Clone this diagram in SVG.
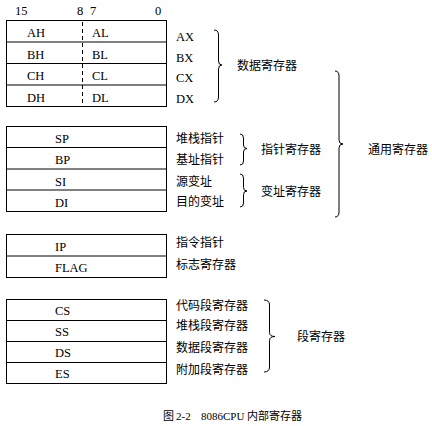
<svg xmlns="http://www.w3.org/2000/svg" width="432" height="426" viewBox="0 0 432 426">
<style>
.box{fill:#fff;stroke:#000;stroke-width:1}
.ln{stroke:#000;stroke-width:1;fill:none}
.dash{stroke:#000;stroke-width:1;stroke-dasharray:4,3}
.br{stroke:#000;stroke-width:1;fill:none}
.lt{font-family:"Liberation Serif","Noto Serif CJK SC",serif;font-size:12.5px;fill:#000}
.cj{font-family:"Noto Sans CJK SC","Noto Sans",sans-serif;font-size:12px;fill:#000}
.cap{font-family:"Liberation Serif","Noto Sans CJK SC",serif;font-size:11px;fill:#000}
.capc{font-family:"Noto Sans CJK SC",sans-serif;font-size:11px;fill:#000}
</style>
<rect width="432" height="426" fill="#fff"/>
<g id="header">
<text class="lt" x="15" y="15">15</text>
<text class="lt" x="77" y="15">8</text>
<text class="lt" x="90" y="15">7</text>
<text class="lt" x="155" y="15">0</text>
</g>
<g id="data-regs">
<rect class="box" x="6.5" y="20.5" width="160" height="86"/>
<line class="ln" x1="6.5" y1="42" x2="166.5" y2="42"/>
<line class="ln" x1="6.5" y1="63.5" x2="166.5" y2="63.5"/>
<line class="ln" x1="6.5" y1="85" x2="166.5" y2="85"/>
<line class="dash" x1="82.5" y1="22" x2="82.5" y2="106"/>
<text class="lt" x="27" y="37">AH</text><text class="lt" x="92" y="37">AL</text>
<text class="lt" x="27" y="58.5">BH</text><text class="lt" x="92" y="58.5">BL</text>
<text class="lt" x="27" y="80">CH</text><text class="lt" x="92" y="80">CL</text>
<text class="lt" x="27" y="101.5">DH</text><text class="lt" x="92" y="101.5">DL</text>
<text class="lt" x="176" y="41">AX</text>
<text class="lt" x="176" y="61.5">BX</text>
<text class="lt" x="176" y="82">CX</text>
<text class="lt" x="176" y="102.5">DX</text>
</g>
<g id="ptr-regs">
<rect class="box" x="6.5" y="126.5" width="160" height="85"/>
<line class="ln" x1="6.5" y1="147.5" x2="166.5" y2="147.5"/>
<line class="ln" x1="6.5" y1="169" x2="166.5" y2="169"/>
<line class="ln" x1="6.5" y1="190" x2="166.5" y2="190"/>
<text class="lt" x="55" y="143">SP</text>
<text class="lt" x="55" y="164">BP</text>
<text class="lt" x="55" y="185.5">SI</text>
<text class="lt" x="55" y="207">DI</text>
<text class="cj" x="176" y="143">堆栈指针</text>
<text class="cj" x="176" y="164">基址指针</text>
<text class="cj" x="176" y="185.5">源变址</text>
<text class="cj" x="176" y="206">目的变址</text>
</g>
<g id="ctrl-regs">
<rect class="box" x="6.5" y="234.5" width="160" height="43"/>
<line class="ln" x1="6.5" y1="256" x2="166.5" y2="256"/>
<text class="lt" x="55" y="250.5">IP</text>
<text class="lt" x="55" y="272">FLAG</text>
<text class="cj" x="176" y="247">指令指针</text>
<text class="cj" x="176" y="268.5">标志寄存器</text>
</g>
<g id="seg-regs">
<rect class="box" x="6.5" y="299.5" width="160" height="84"/>
<line class="ln" x1="6.5" y1="320.5" x2="166.5" y2="320.5"/>
<line class="ln" x1="6.5" y1="341.5" x2="166.5" y2="341.5"/>
<line class="ln" x1="6.5" y1="362.5" x2="166.5" y2="362.5"/>
<text class="lt" x="55" y="315">CS</text>
<text class="lt" x="55" y="335.5">SS</text>
<text class="lt" x="55" y="357">DS</text>
<text class="lt" x="55" y="378">ES</text>
<text class="cj" x="176" y="309.5">代码段寄存器</text>
<text class="cj" x="176" y="330">堆栈段寄存器</text>
<text class="cj" x="176" y="352">数据段寄存器</text>
<text class="cj" x="176" y="373.5">附加段寄存器</text>
</g>
<g id="connectors">
<path class="br" d="M214,30 Q218.5,30 218.5,35 V61 Q218.5,65 222,65 Q218.5,65 218.5,69 V97 Q218.5,102 214,102"/>
<path class="br" d="M240,134 Q243.5,134 243.5,138 V145 Q243.5,148.5 247,148.5 Q243.5,148.5 243.5,152 V161 Q243.5,165 240,165"/>
<path class="br" d="M240,174 Q243.5,174 243.5,178 V187.5 Q243.5,191 247,191 Q243.5,191 243.5,194.5 V203 Q243.5,207 240,207"/>
<path class="br" d="M335,71 Q339,71 339,76 V140 Q339,144 343,144 Q339,144 339,148 V212 Q339,217 335,217"/>
<path class="br" d="M264,300 Q269.5,300 269.5,305 V332.5 Q269.5,336.5 275,336.5 Q269.5,336.5 269.5,340.5 V367 Q269.5,372 264,372"/>
</g>
<g id="group-labels">
<text class="cj" x="237" y="70">数据寄存器</text>
<text class="cj" x="261" y="154">指针寄存器</text>
<text class="cj" x="261" y="195.5">变址寄存器</text>
<text class="cj" x="368" y="154">通用寄存器</text>
<text class="cj" x="297" y="341">段寄存器</text>
</g>
<g id="caption">
<text class="capc" x="163" y="420">图</text>
<text class="cap" x="176" y="420">2-2</text>
<text class="cap" x="201" y="420">8086CPU</text>
<text class="capc" x="247" y="420">内部寄存器</text>
</g>
</svg>
